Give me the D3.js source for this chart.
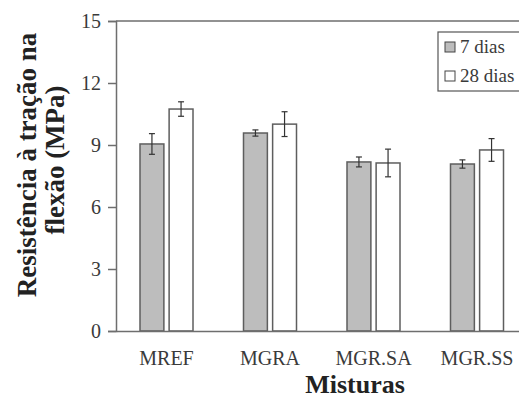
<!DOCTYPE html>
<html>
<head>
<meta charset="utf-8">
<script src="https://cdn.jsdelivr.net/npm/d3@7.9.0/dist/d3.min.js"></script>
<style>
  body { margin: 0; background: #fff; }
  svg text { font-family: "Liberation Serif", "DejaVu Serif", serif; }
</style>
</head>
<body>
<svg id="chart" width="519" height="405"></svg>
<script>
const categories = ["MREF", "MGRA", "MGR.SA", "MGR.SS"];
const series = ["7 dias", "28 dias"];
const values7 = [9.05, 9.58, 8.18, 8.08];
const values28 = [10.74, 10.01, 8.13, 8.76];
const errors7 = [0.5, 0.15, 0.24, 0.2];
const errors28 = [0.35, 0.6, 0.67, 0.55];
const yTicks = [0, 3, 6, 9, 12, 15];

const fills = ["#bdbdbd", "#ffffff"];
const axisColor = "#6e6e6e";
const textColor = "#3a3a3a";

const margin = { top: 21, left: 116, bottom: 74 };
const width = 519;
const height = 405;

const svg = d3.select("#chart");

const x = d3.scaleBand().domain(categories).range([margin.left, 530]);
const x1 = d3.scaleBand().domain(series).range([24, 77]).paddingInner(0.18);
const y = d3.scaleLinear().domain([0, 15]).range([height - margin.bottom, margin.top]);

const data = categories.flatMap((c, i) => [
  { cat: c, s: series[0], v: values7[i], e: errors7[i] },
  { cat: c, s: series[1], v: values28[i], e: errors28[i] },
]);

// frame top line
svg.append("line")
  .attr("x1", margin.left).attr("x2", width)
  .attr("y1", y(15)).attr("y2", y(15))
  .attr("stroke", axisColor).attr("stroke-width", 1.5);

// bars
svg.append("g").selectAll("rect")
  .data(data)
  .join("rect")
  .attr("x", (d) => x(d.cat) + x1(d.s))
  .attr("y", (d) => y(d.v))
  .attr("width", x1.bandwidth())
  .attr("height", (d) => y(0) - y(d.v))
  .attr("fill", (d) => fills[series.indexOf(d.s)])
  .attr("stroke", "#5e5e5e")
  .attr("stroke-width", 1.5);

// error bars
const err = svg.append("g").attr("stroke", "#333").attr("stroke-width", 1.2);
data.forEach((d) => {
  const cx = x(d.cat) + x1(d.s) + x1.bandwidth() / 2;
  err.append("line").attr("x1", cx).attr("x2", cx)
    .attr("y1", y(d.v + d.e)).attr("y2", y(d.v - d.e));
  [d.v + d.e, d.v - d.e].forEach((v) => {
    err.append("line").attr("x1", cx - 3).attr("x2", cx + 3)
      .attr("y1", y(v)).attr("y2", y(v));
  });
});

// y axis
const yAxis = svg.append("g")
  .attr("transform", `translate(${margin.left},0)`)
  .call(d3.axisLeft(y).tickValues(yTicks).tickSize(8).tickPadding(7))
  .attr("font-family", null)
  .attr("font-size", null);
yAxis.select(".domain").attr("stroke", axisColor).attr("stroke-width", 1.5);
yAxis.selectAll(".tick line").attr("stroke", axisColor).attr("stroke-width", 1.5);
yAxis.selectAll(".tick text")
  .attr("fill", textColor)
  .attr("font-size", 20);

// x axis
const xAxis = svg.append("g")
  .attr("transform", `translate(0,${y(0)})`)
  .call(d3.axisBottom(x).tickSize(0).tickPadding(20))
  .attr("font-family", null)
  .attr("font-size", null);
xAxis.select(".domain").attr("stroke", axisColor).attr("stroke-width", 1.5);
xAxis.selectAll(".tick text")
  .attr("transform", `translate(${x1.range()[0] + 26.5 - x.bandwidth() / 2},0)`)
  .attr("fill", textColor)
  .attr("font-size", 20);

// axis titles
svg.append("text")
  .attr("x", 355).attr("y", 393)
  .attr("text-anchor", "middle")
  .attr("font-weight", "bold")
  .attr("font-size", 26)
  .attr("fill", "#222")
  .text("Misturas");

const yTitle = svg.append("text")
  .attr("transform", "rotate(-90)")
  .attr("text-anchor", "middle")
  .attr("font-weight", "bold")
  .attr("font-size", 27)
  .attr("fill", "#222");
yTitle.append("tspan").attr("x", -165).attr("y", 36).text("Resistência à tração na");
yTitle.append("tspan").attr("x", -160).attr("y", 64).text("flexão (MPa)");

// legend
const legend = svg.append("g");
legend.append("rect")
  .attr("x", 438).attr("y", 32).attr("width", 90).attr("height", 59)
  .attr("fill", "#fff").attr("stroke", "#555").attr("stroke-width", 1.2);
series.forEach((s, i) => {
  legend.append("rect")
    .attr("x", 445).attr("y", 42 + i * 29).attr("width", 10).attr("height", 10)
    .attr("fill", fills[i]).attr("stroke", "#444").attr("stroke-width", 1);
  legend.append("text")
    .attr("x", 460).attr("y", 53 + i * 29)
    .attr("font-size", 19).attr("fill", textColor)
    .text(s);
});
</script>
</body>
</html>
